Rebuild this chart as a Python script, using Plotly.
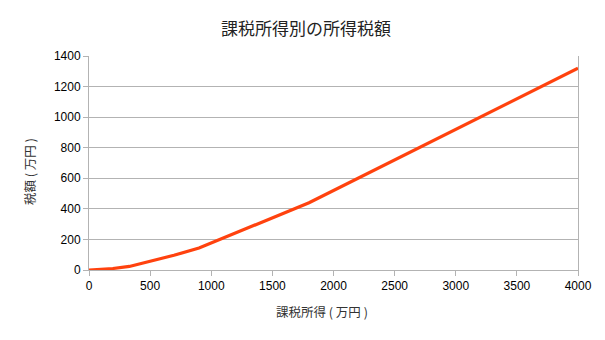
import plotly.graph_objects as go

income = [0, 195, 330, 695, 900, 1800, 4000]
tax = [0, 9.75, 23.25, 96.25, 143.4, 440.4, 1320.4]
x_ticks = [0, 500, 1000, 1500, 2000, 2500, 3000, 3500, 4000]
y_ticks = [0, 200, 400, 600, 800, 1000, 1200, 1400]

title = "課税所得別の所得税額"
x_title = "課税所得 ( 万円 )"
y_title = "税額 ( 万円 )"

W, H = 605, 340
ML, MR, MT, MB = 89, 27, 56, 70
font_fam = "Liberation Sans, Noto Sans CJK JP, sans-serif"
cjk = "Noto Sans CJK JP, sans-serif"


def px_to_paper(px, py):
    return (px - ML) / (W - ML - MR), (H - MB - py) / (H - MT - MB)


fig = go.Figure()
fig.add_trace(go.Scatter(x=income, y=tax, mode="lines",
                         line=dict(color="#ff420e", width=3.2), showlegend=False))

anns = []
for text, (px, py), size, angle, color in [
    (title, (306, 28), 17, 0, "#222222"),
    (x_title, (322, 311), 12.5, 0, "#333333"),
    (y_title, (29, 172), 12.5, -90, "#333333"),
]:
    ax, ay = px_to_paper(px, py)
    anns.append(dict(text=text, xref="paper", yref="paper", x=ax, y=ay,
                     xanchor="center", yanchor="middle", showarrow=False,
                     textangle=angle, font=dict(family=cjk, size=size, color=color)))

fig.update_layout(
    width=W, height=H,
    margin=dict(l=ML, r=MR, t=MT, b=MB),
    paper_bgcolor="white", plot_bgcolor="white",
    font=dict(family=font_fam, color="#000000", size=12),
    annotations=anns,
)
fig.update_xaxes(
    range=[0, 4000], tickvals=x_ticks,
    showgrid=False, zeroline=False,
    showline=True, linecolor="#b3b3b3", linewidth=1,
    ticks="outside", ticklen=5, tickcolor="#b3b3b3",
    tickfont=dict(size=12),
)
fig.update_yaxes(
    range=[0, 1400], tickvals=y_ticks,
    showgrid=True, gridcolor="#b3b3b3", gridwidth=1, zeroline=False,
    showline=True, linecolor="#b3b3b3", linewidth=1, mirror=True,
    ticks="outside", ticklen=5, tickcolor="#b3b3b3",
    tickfont=dict(size=12),
)

fig.write_html("out.html")
